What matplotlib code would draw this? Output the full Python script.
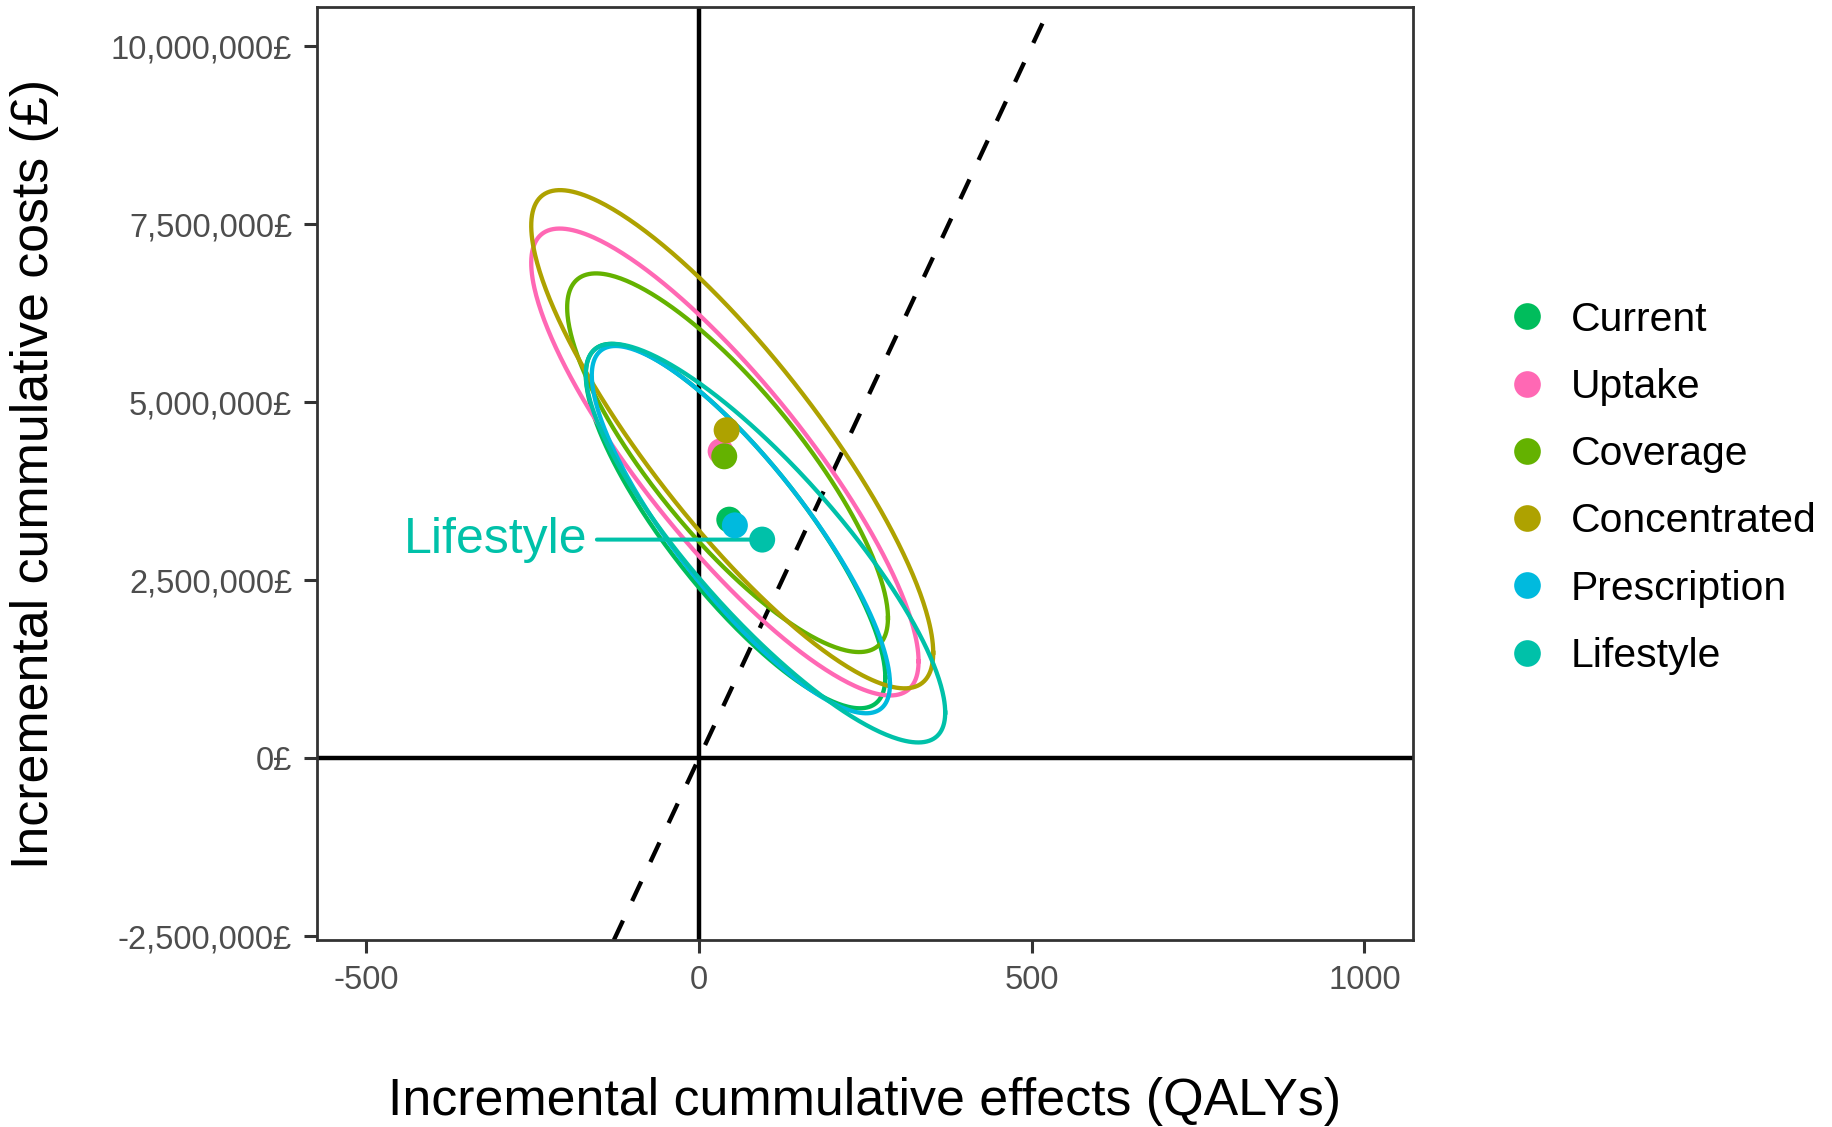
import numpy as np
import matplotlib
matplotlib.use("Agg")
import matplotlib.pyplot as plt
from matplotlib.lines import Line2D
from matplotlib.ticker import FuncFormatter

plt.rcParams['font.family'] = ['Liberation Sans', 'DejaVu Sans']

# ---- data ----
names = ['Current', 'Uptake', 'Coverage', 'Concentrated', 'Prescription', 'Lifestyle']
colors = ['#00BD5C', '#FF68B4', '#64B200', '#AEA200', '#00BADE', '#00C1A9']
point_x = [45.6, 32.6, 38.0, 41.6, 54.0, 95.0]
point_y = [3.35e6, 4.31e6, 4.24e6, 4.607e6, 3.27e6, 3.07e6]
# ellipse: centre, half-extent in x and y, correlation
ell_cx = [55, 39, 43, 50, 63, 100]
ell_cy = [3.26e6, 4.16e6, 4.15e6, 4.48e6, 3.21e6, 3.02e6]
ell_ax = [225, 291, 241, 302, 224, 270]
ell_ay = [2.56e6, 3.28e6, 2.66e6, 3.50e6, 2.58e6, 2.80e6]
ell_rho = [-0.83, -0.853, -0.82, -0.857, -0.84, -0.85]
wtp = 20000  # £ per QALY threshold
x_ticks = [-500, 0, 500, 1000]
y_ticks = [-2500000, 0, 2500000, 5000000, 7500000, 10000000]
x_lim = (-574, 1073)
y_lim = (-2.556e6, 10.553e6)
label_name = 'Lifestyle'

fig = plt.figure(figsize=(18.33, 11.27), dpi=100)
ax = fig.add_axes([0.1729, 0.1659, 0.598, 0.8279])

ax.axhline(0, color='black', lw=3.2, zorder=1)
ax.axvline(0, color='black', lw=3.2, zorder=1)
ax.axline((0, 0), slope=wtp, color='black', lw=3.1, linestyle=(0, (5, 5)), zorder=1)

t = np.linspace(0, 2 * np.pi, 400)
for i in range(len(names)):
    r = ell_rho[i]
    ex = ell_cx[i] + ell_ax[i] * np.cos(t)
    ey = ell_cy[i] + ell_ay[i] * (r * np.cos(t) + np.sqrt(1 - r * r) * np.sin(t))
    ax.plot(ex, ey, color=colors[i], lw=3.1, zorder=2)

for i in range(len(names)):
    ax.scatter([point_x[i]], [point_y[i]], s=350, color=colors[i], edgecolors='none', zorder=4)

li = names.index(label_name)
ax.annotate(label_name, xy=(point_x[li], point_y[li]), xytext=(-126, 0),
            textcoords='offset points', ha='right', va='center',
            fontsize=36, color=colors[li],
            arrowprops=dict(arrowstyle='-', color=colors[li], lw=2.9,
                            shrinkA=5, shrinkB=9), zorder=3)

ax.set_xlim(*x_lim)
ax.set_ylim(*y_lim)
ax.set_xticks(x_ticks)
ax.set_yticks(y_ticks)
ax.yaxis.set_major_formatter(FuncFormatter(lambda v, p: f"{int(round(v)):,}£"))
ax.xaxis.set_major_formatter(FuncFormatter(lambda v, p: f"{int(round(v))}"))
ax.tick_params(axis='both', labelsize=23.5, labelcolor='#4D4D4D', color='#333333',
               length=9.4, width=2.2, pad=8.5)

for s in ax.spines.values():
    s.set_color('#333333')
    s.set_linewidth(2.0)

ax.set_xlabel('Incremental cummulative effects (QALYs)', fontsize=37.4, color='black')
ax.set_ylabel('Incremental cummulative costs (£)', fontsize=37.4, color='black')
ax.xaxis.set_label_coords(0.5, -0.1726)
ax.xaxis.label.set_va('center')
ax.yaxis.set_label_coords(-0.2573, 0.5)
ax.yaxis.label.set_va('center')
ax.yaxis.label.set_ha('center')

handles = [Line2D([0], [0], marker='o', linestyle='none', markersize=19.2,
                  markerfacecolor=c, markeredgecolor='none') for c in colors]
fig.legend(handles, names, loc='center left', bbox_to_anchor=(0.8224, 0.5672),
           frameon=False, fontsize=29.4, handlelength=0.95, handletextpad=0.6,
           labelspacing=0.716, borderpad=0, borderaxespad=0)

fig.savefig('out.png', dpi=100)
